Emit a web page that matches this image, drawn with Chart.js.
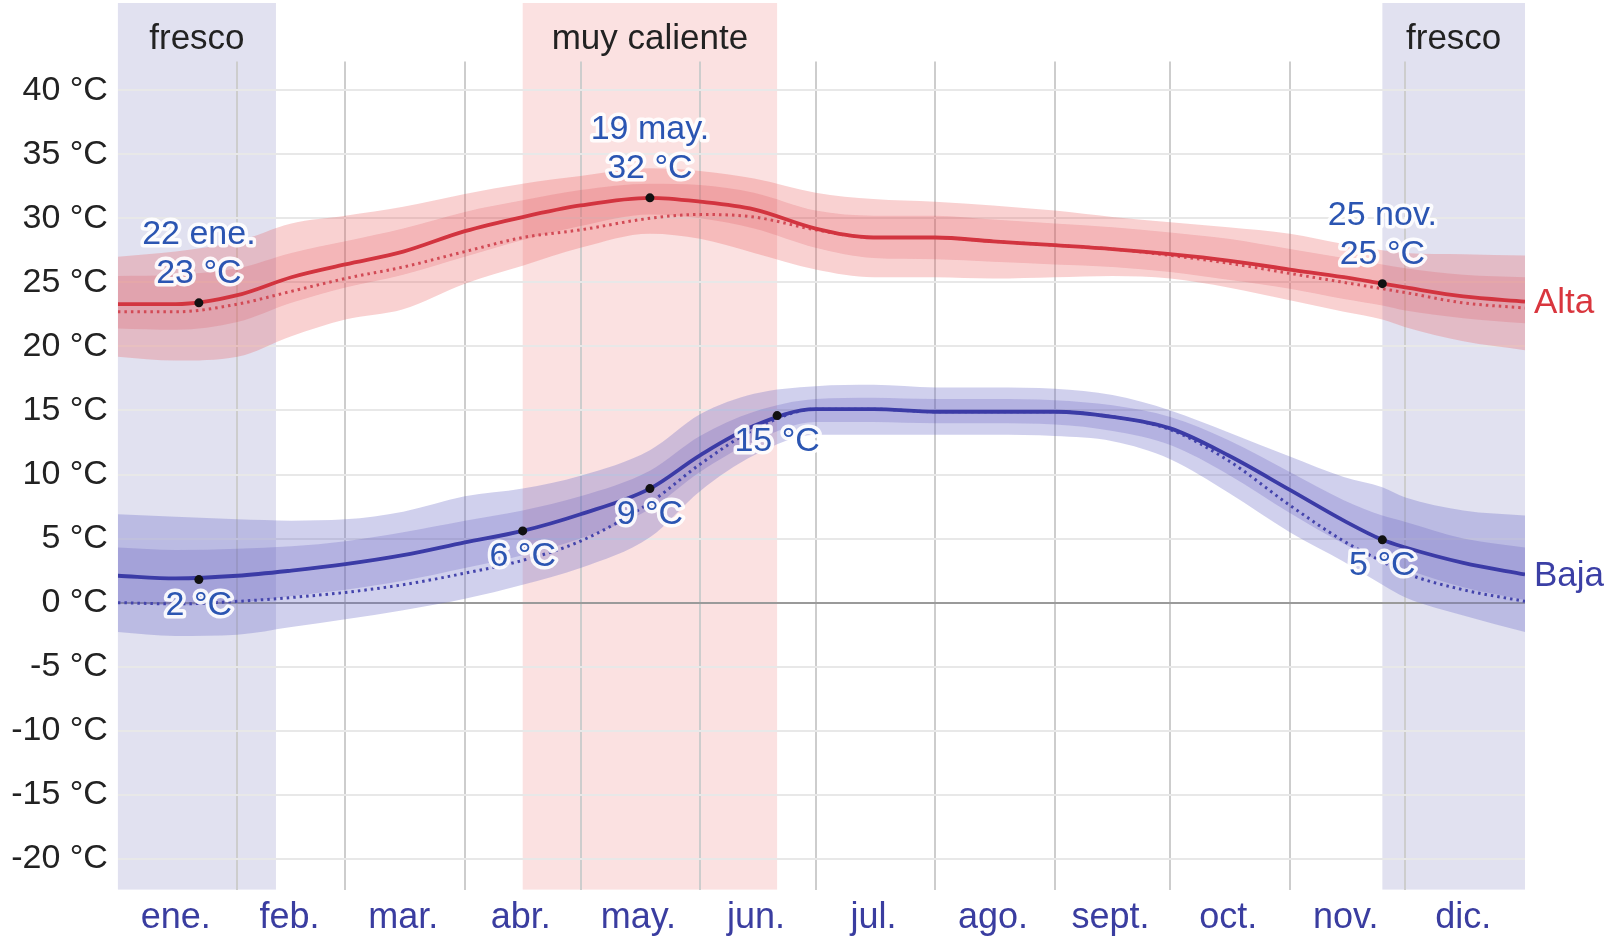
<!DOCTYPE html>
<html lang="es">
<head>
<meta charset="utf-8">
<title>Temperatura máxima y mínima promedio</title>
<script src="https://cdn.jsdelivr.net/npm/chart.js@4.4.1/dist/chart.umd.min.js"></script>
<style>
  html, body { margin: 0; padding: 0; background: #fff; }
  #wrap { width: 1607px; height: 944px; }
</style>
</head>
<body>
<div id="wrap"><canvas id="tempChart" width="1607" height="944"></canvas></div>
<script>
// Día del año (0 = 1 de enero) para cada muestra de las series.
const days = [0, 15, 31, 45, 59, 74, 90, 105, 120, 138, 151, 165, 181, 196, 212, 227, 243, 258, 273, 288, 304, 318, 328, 334, 349, 365];

// Máxima promedio, sensación térmica y percentiles 10/25/75/90.
const highAvg  = [23.3, 23.3, 24.0, 25.4, 26.4, 27.4, 29.0, 30.1, 31.0, 31.6, 31.3, 30.7, 29.2, 28.5, 28.5, 28.2, 27.9, 27.6, 27.2, 26.7, 26.0, 25.4, 24.9, 24.6, 23.9, 23.5];
const highFeel = [22.7, 22.7, 23.3, 24.3, 25.3, 26.2, 27.4, 28.5, 29.1, 30.0, 30.3, 30.1, 29.1, 28.5, 28.5, 28.2, 27.9, 27.6, 27.1, 26.5, 25.7, 25.0, 24.5, 24.2, 23.4, 23.0];
const highP90  = [27.0, 27.4, 28.2, 29.6, 30.2, 30.9, 31.9, 32.7, 33.3, 33.9, 33.7, 33.1, 32.0, 31.5, 31.3, 31.0, 30.6, 30.1, 29.7, 29.3, 28.8, 28.0, 27.5, 27.3, 27.2, 27.1];
const highP75  = [25.5, 25.6, 26.1, 27.3, 28.2, 29.2, 30.5, 31.4, 32.2, 32.7, 32.6, 32.0, 30.6, 30.2, 30.2, 29.9, 29.6, 29.3, 28.9, 28.4, 27.6, 26.9, 26.4, 26.1, 25.6, 25.4];
const highP25  = [21.4, 21.3, 21.9, 23.4, 24.6, 25.6, 27.0, 28.3, 29.4, 30.3, 30.0, 29.2, 27.7, 26.9, 26.8, 26.6, 26.4, 26.2, 25.8, 25.2, 24.5, 23.7, 23.2, 22.8, 22.2, 21.8];
const highP10  = [19.2, 18.9, 19.2, 20.8, 22.1, 22.9, 24.9, 26.3, 27.7, 28.8, 28.4, 27.3, 26.0, 25.4, 25.4, 25.3, 25.4, 25.5, 25.3, 24.6, 23.6, 22.7, 22.1, 21.5, 20.4, 19.7];

// Mínima promedio, sensación térmica y percentiles 10/25/75/90.
const lowAvg  = [2.1, 1.9, 2.1, 2.5, 3.0, 3.7, 4.7, 5.6, 6.9, 8.9, 11.5, 13.8, 15.1, 15.1, 14.9, 14.9, 14.9, 14.5, 13.6, 11.5, 8.8, 6.4, 4.9, 4.3, 3.1, 2.2];
const lowFeel = [0.0, -0.1, 0.1, 0.4, 0.8, 1.4, 2.3, 3.3, 4.8, 7.8, 10.8, 13.5, 15.1, 15.1, 14.9, 14.9, 14.9, 14.5, 13.5, 11.1, 7.6, 4.8, 3.2, 2.3, 1.0, 0.1];
const lowP90  = [6.9, 6.7, 6.5, 6.4, 6.5, 7.1, 8.3, 8.9, 9.9, 11.9, 14.7, 16.3, 16.9, 17.0, 16.8, 16.8, 16.7, 16.2, 15.0, 13.3, 11.4, 9.8, 9.0, 8.2, 7.2, 6.8];
const lowP75  = [4.3, 4.1, 4.2, 4.4, 4.8, 5.5, 6.4, 7.2, 8.3, 10.3, 13.0, 14.9, 15.9, 16.0, 15.9, 15.9, 15.8, 15.4, 14.5, 12.7, 10.2, 8.0, 6.8, 6.3, 5.0, 4.3];
const lowP25  = [0.0, -0.2, 0.0, 0.5, 1.0, 1.7, 2.7, 3.7, 5.0, 7.3, 10.2, 12.6, 14.1, 14.1, 14.0, 14.0, 13.9, 13.4, 12.3, 10.0, 7.0, 4.6, 3.2, 2.6, 1.2, 0.2];
const lowP10  = [-2.3, -2.6, -2.5, -1.9, -1.3, -0.6, 0.3, 1.4, 2.7, 5.1, 8.7, 11.5, 13.1, 13.1, 13.1, 13.1, 13.0, 12.6, 11.2, 8.6, 5.5, 3.2, 1.4, 0.4, -1.0, -2.3];

// Días destacados (punto negro + etiqueta).
const highMarkDays  = [21, 138, 328];
const highMarkVals  = [23.4, 31.6, 24.9];
const highMarkDates = ['22 ene.', '19 may.', '25 nov.'];
const lowMarkDays   = [21, 105, 138, 171, 328];
const lowMarkVals   = [1.8, 5.6, 8.9, 14.6, 4.9];

// Estaciones sombreadas.
const seasonNames  = ['fresco', 'muy caliente', 'fresco'];
const seasonStarts = [0, 105, 328];
const seasonEnds   = [41, 171, 365];
const seasonFills  = ['#e1e1f0', '#fbe1e1', '#e1e1f0'];

// Eje X: inicio de cada mes (líneas) y mitad de mes (etiquetas).
const monthStarts = [31, 59, 90, 120, 151, 181, 212, 243, 273, 304, 334];
const monthMids   = [15, 44.5, 74, 104.5, 135, 165.5, 196, 227, 257.5, 288, 318.5, 349];
const monthNames  = ['ene.', 'feb.', 'mar.', 'abr.', 'may.', 'jun.', 'jul.', 'ago.', 'sept.', 'oct.', 'nov.', 'dic.'];

// Eje Y.
const yTicks = [-20, -15, -10, -5, 0, 5, 10, 15, 20, 25, 30, 35, 40];

const SANS = "'Liberation Sans', Arial, sans-serif";
const LABEL_BLUE = '#2b55b2';

const pts = (xs, ys) => xs.map((x, i) => ({ x: x, y: ys[i] }));

const lineSet = (label, values, color, width, dash) => ({
    label: label,
    data: pts(days, values),
    borderColor: color,
    borderWidth: width,
    borderDash: dash || [],
    pointRadius: 0,
    fill: false,
    cubicInterpolationMode: 'monotone'
});

const bandSet = (label, values, fillColor, fillTo) => ({
    label: label,
    data: pts(days, values),
    borderWidth: 0,
    borderColor: 'rgba(0,0,0,0)',
    backgroundColor: fillColor,
    pointRadius: 0,
    fill: fillTo,
    cubicInterpolationMode: 'monotone'
});

// Bandas de estación detrás de todo, con su nombre arriba.
const seasonPlugin = {
    id: 'seasons',
    beforeDraw(chart) {
        const { ctx, chartArea, scales } = chart;
        const x = scales.x;
        ctx.save();
        seasonNames.forEach((name, i) => {
            const x0 = x.getPixelForValue(seasonStarts[i]);
            const x1 = x.getPixelForValue(seasonEnds[i]);
            ctx.fillStyle = seasonFills[i];
            ctx.fillRect(x0, 3, x1 - x0, chartArea.bottom - 3);
            ctx.fillStyle = '#222';
            ctx.font = '35px ' + SANS;
            ctx.textAlign = 'center';
            ctx.textBaseline = 'middle';
            ctx.fillText(name, (x0 + x1) / 2, 39);
        });
        ctx.restore();
    }
};

const haloText = (ctx, text, x, y) => {
    ctx.strokeText(text, x, y);
    ctx.fillText(text, x, y);
};

// Etiquetas de los días destacados y nombres de las series.
const labelPlugin = {
    id: 'markLabels',
    afterDatasetsDraw(chart) {
        const { ctx, chartArea, scales } = chart;
        const highMeta = chart.getDatasetMeta(0);
        const lowMeta = chart.getDatasetMeta(1);
        ctx.save();
        ctx.font = '34px ' + SANS;
        ctx.textAlign = 'center';
        ctx.textBaseline = 'middle';
        ctx.lineJoin = 'round';
        ctx.lineWidth = 7;
        ctx.strokeStyle = 'rgba(255,255,255,0.9)';
        ctx.fillStyle = LABEL_BLUE;

        highMeta.data.forEach((pt, i) => {
            haloText(ctx, highMarkDates[i], pt.x, pt.y - 68);
            haloText(ctx, Math.round(highMarkVals[i]) + ' °C', pt.x, pt.y - 29);
        });
        lowMeta.data.forEach((pt, i) => {
            haloText(ctx, Math.round(lowMarkVals[i]) + ' °C', pt.x, pt.y + 26);
        });

        ctx.font = '35px ' + SANS;
        ctx.textAlign = 'left';
        ctx.fillStyle = '#d9363e';
        ctx.fillText('Alta', chartArea.right + 9, scales.y.getPixelForValue(highAvg[highAvg.length - 1]) + 2);
        ctx.fillStyle = '#3b3fa5';
        ctx.fillText('Baja', chartArea.right + 9, scales.y.getPixelForValue(lowAvg[lowAvg.length - 1]) + 2);
        ctx.restore();
    }
};

const markSet = (label, xs, ys) => ({
    label: label,
    data: pts(xs, ys),
    showLine: false,
    pointRadius: 4.5,
    pointBackgroundColor: '#111',
    pointBorderWidth: 0,
    borderColor: '#111'
});

new Chart(document.getElementById('tempChart'), {
    type: 'line',
    data: {
        datasets: [
            markSet('Máx. destacada', highMarkDays, highMarkVals),
            markSet('Mín. destacada', lowMarkDays, lowMarkVals),
            lineSet('Alta', highAvg, '#d2343f', 3.8),
            lineSet('Alta sensación', highFeel, '#d24a55', 3, [2.5, 4]),
            lineSet('Baja', lowAvg, '#3b3ba6', 3.8),
            lineSet('Baja sensación', lowFeel, '#4444ac', 3, [2.5, 4]),
            bandSet('Alta p75', highP75, 'rgba(220,70,80,0.2)', '+1'),
            bandSet('Alta p25', highP25, 'rgba(0,0,0,0)', false),
            bandSet('Alta p90', highP90, 'rgba(233,90,90,0.28)', '+1'),
            bandSet('Alta p10', highP10, 'rgba(0,0,0,0)', false),
            bandSet('Baja p75', lowP75, 'rgba(80,75,180,0.22)', '+1'),
            bandSet('Baja p25', lowP25, 'rgba(0,0,0,0)', false),
            bandSet('Baja p90', lowP90, 'rgba(110,110,200,0.32)', '+1'),
            bandSet('Baja p10', lowP10, 'rgba(0,0,0,0)', false)
        ]
    },
    options: {
        responsive: false,
        devicePixelRatio: 1,
        animation: false,
        layout: { padding: { top: 61.5, right: 82, bottom: 0, left: 0 } },
        plugins: {
            legend: { display: false },
            tooltip: { enabled: false }
        },
        scales: {
            x: {
                type: 'linear',
                min: 0,
                max: 365,
                position: 'bottom',
                afterBuildTicks: axis => { axis.ticks = monthStarts.map(v => ({ value: v })); },
                afterFit: axis => { axis.height = 0; },
                grid: { color: '#cdcdcd', lineWidth: 2, drawTicks: false },
                border: { display: false },
                ticks: { display: false }
            },
            months: {
                type: 'linear',
                axis: 'x',
                min: 0,
                max: 365,
                position: 'bottom',
                afterBuildTicks: axis => { axis.ticks = monthMids.map(v => ({ value: v })); },
                afterFit: axis => { axis.height = 54.4; },
                grid: { display: false, drawTicks: false },
                border: { display: false },
                ticks: {
                    autoSkip: false,
                    maxRotation: 0,
                    padding: 7,
                    color: '#3a3da0',
                    font: { family: SANS, size: 36 },
                    callback: (value, index) => monthNames[index]
                }
            },
            y: {
                type: 'linear',
                min: -22.4,
                max: 42.24,
                afterBuildTicks: axis => { axis.ticks = yTicks.map(v => ({ value: v })); },
                afterFit: axis => { axis.width = 117.9; },
                grid: {
                    drawTicks: false,
                    lineWidth: 2,
                    color: c => (c.tick && c.tick.value === 0 ? '#9a9a9a' : '#e8e8e8')
                },
                border: { display: false },
                ticks: {
                    padding: 10,
                    color: '#222',
                    font: { family: SANS, size: 34 },
                    callback: v => v + ' °C'
                }
            }
        }
    },
    plugins: [seasonPlugin, labelPlugin]
});
</script>
</body>
</html>
